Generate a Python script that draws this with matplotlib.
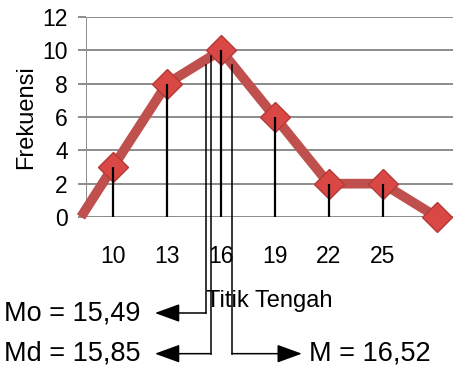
import matplotlib.pyplot as plt

plt.rcParams['font.family'] = ['Liberation Sans', 'DejaVu Sans']

# titik tengah dan frekuensi (poligon frekuensi)
titik = [8.22, 10, 13, 16, 19, 22, 25, 28]
frek = [0, 3, 8, 10, 6, 2, 2, 0]
xtick_vals = [10, 13, 16, 19, 22, 25]
ytick_vals = [0, 2, 4, 6, 8, 10, 12]

# garis Mo, Md, M (posisi)
ukuran_label = ['Mo = 15,49', 'Md = 15,85', 'M = 16,52']
ukuran_x = [15.17, 15.46, 16.61]
ukuran_top = [9.1, 9.65, 9.1]
ukuran_y = [-5.76, -8.2, -8.2]
panah_x = [12.33, 12.33, 20.5]
teks_x = [11.55, 11.55, 20.9]

fig = plt.figure(figsize=(4.53, 3.69), dpi=100)
ax = fig.add_axes([86 / 453, 1 - 217 / 369, (453 - 86) / 453, 200 / 369])

ax.set_xlim(8.5, 28.9)
ax.set_ylim(0, 12)

for y in ytick_vals:
    ax.axhline(y, color='#8c8c8c', lw=1.4, zorder=1)
ax.axvline(8.5, color='#8c8c8c', lw=1.4, zorder=1)

for s in ax.spines.values():
    s.set_visible(False)

ax.plot(titik, frek, color='#c0504d', lw=7, zorder=3, clip_on=False,
        solid_capstyle='butt')
ax.plot(titik[1:], frek[1:], ls='none', marker='D', ms=15,
        markerfacecolor='#d94845', markeredgecolor='#b23b38', mew=1,
        zorder=4, clip_on=False)

# garis tegak dari tiap titik
ax.vlines(titik[1:-1], 0, frek[1:-1], color='black', lw=1.6, zorder=5)

# garis Mo, Md, M ke bawah
for lab, x, top, y, ax_x, tx in zip(ukuran_label, ukuran_x, ukuran_top,
                                    ukuran_y, panah_x, teks_x):
    ax.plot([x, x], [top, y], color='black', lw=1.1, zorder=5,
            clip_on=False, solid_capstyle='projecting')
    ax.annotate('', xy=(ax_x, y), xytext=(x, y),
                arrowprops=dict(arrowstyle='-|>,head_length=1.1,head_width=0.4',
                                color='black', lw=1.1, shrinkA=0, shrinkB=0,
                                mutation_scale=14),
                annotation_clip=False)
    ha = 'right' if ax_x < x else 'left'
    ax.text(tx, y, lab, ha=ha, va='center', fontsize=19.5, clip_on=False)

ax.set_xticks(xtick_vals)
ax.set_xticklabels([str(v) for v in xtick_vals])
ax.set_yticks(ytick_vals)
ax.tick_params(axis='x', length=0, pad=20, labelsize=16.5)
ax.tick_params(axis='y', length=6, width=1.4, color='#8c8c8c', pad=7,
               labelsize=16.5)

ax.set_ylabel('Frekuensi', fontsize=17, labelpad=4)
ax.set_xlabel('Titik Tengah', fontsize=17, labelpad=16)

fig.savefig('out.png', dpi=100)
